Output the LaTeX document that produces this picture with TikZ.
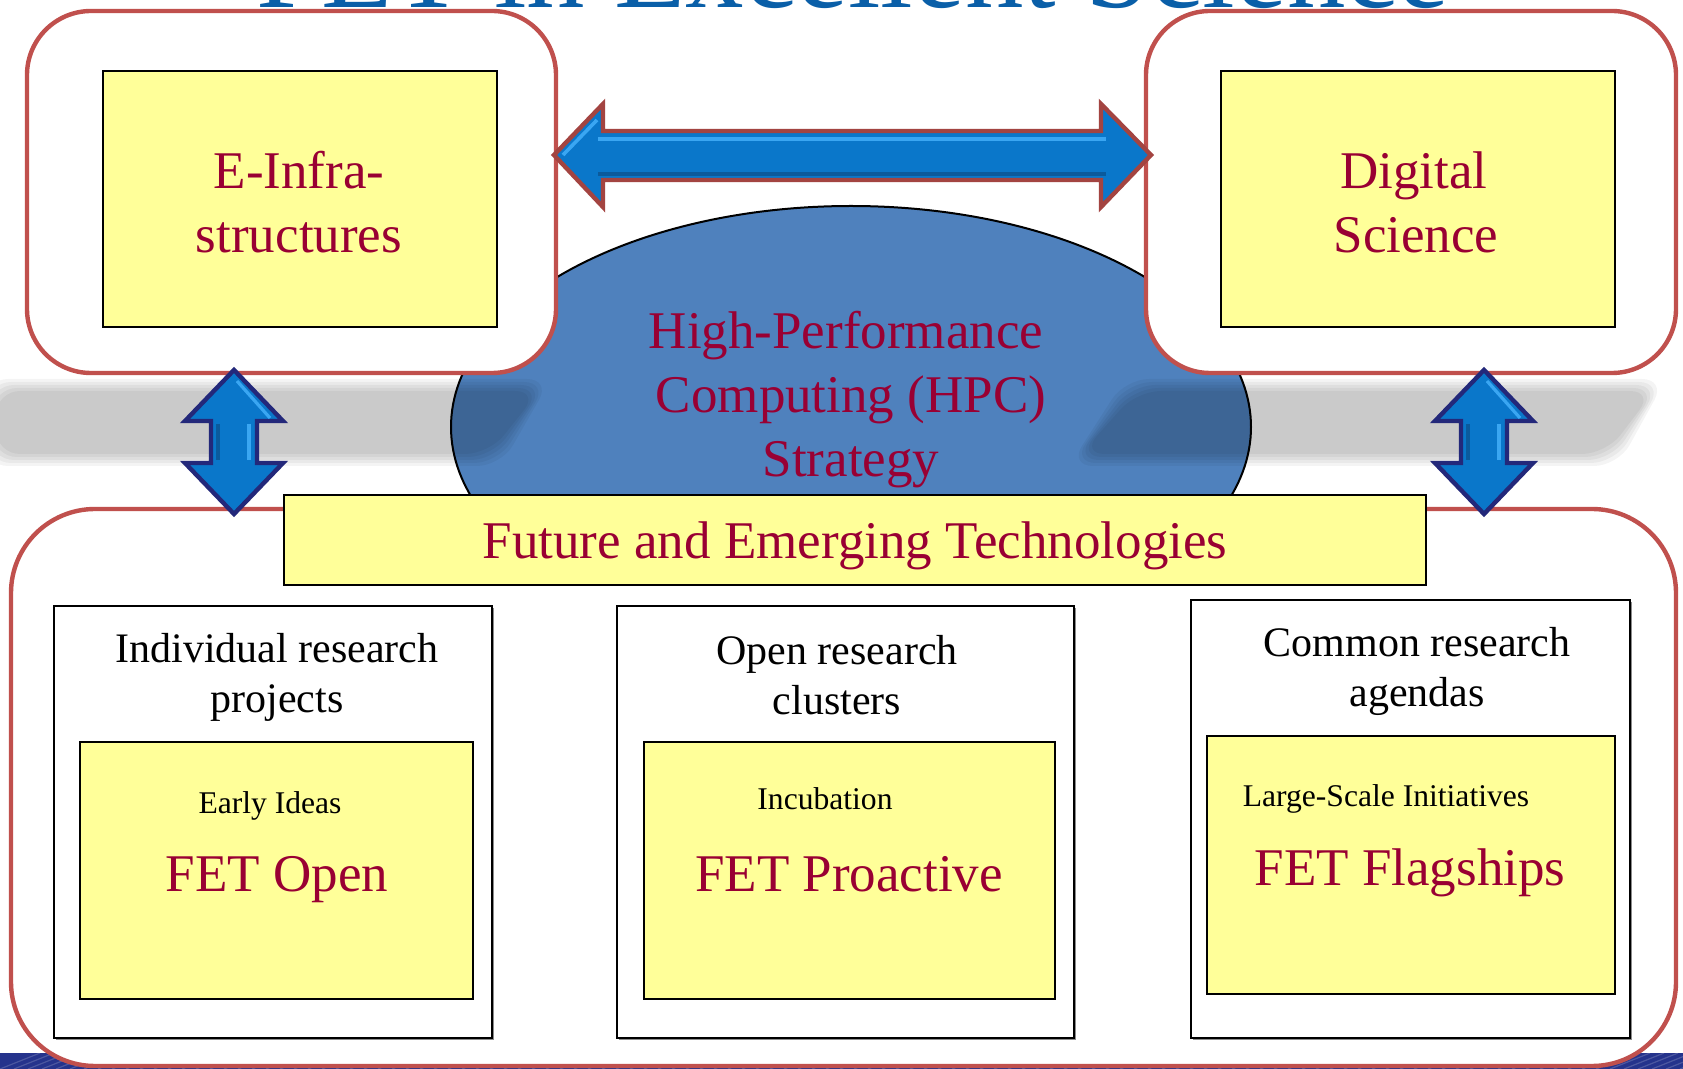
\documentclass[tikz,border=0pt]{standalone}
\usepackage{fontspec}
\setmainfont{Liberation Serif}
\usetikzlibrary{shapes.geometric,shadows}
\definecolor{boxred}{HTML}{C0504D}
\definecolor{fetyellow}{HTML}{FFFF99}
\definecolor{darkred}{HTML}{990033}
\definecolor{hpcblue}{HTML}{4F81BD}
\definecolor{arrowblue}{HTML}{0A77CA}
\definecolor{arrowlight}{HTML}{3AA6F2}
\definecolor{arrowdark}{HTML}{0B5A9C}
\definecolor{arrownavy}{HTML}{23287A}
\definecolor{titleblue}{HTML}{0A5FA8}
\definecolor{stripblue}{HTML}{25338C}
\newcommand{\fntBig}{\fontsize{13.25pt}{16pt}\selectfont}
\newcommand{\fntHead}{\fontsize{10.5pt}{12.5pt}\selectfont}
\newcommand{\fntSmall}{\fontsize{7.9pt}{9.5pt}\selectfont}
\newcommand{\fntTitle}{\fontsize{29.25pt}{35pt}\selectfont}
\tikzset{
  outerbox/.style={draw=boxred, line width=1.1pt, fill=white, rounded corners=16pt, inner sep=0pt},
  yelbox/.style={draw=black, line width=0.5pt, fill=fetyellow, inner sep=0pt},
  whitebox/.style={draw=black, line width=0.5pt, fill=white, inner sep=0pt,
    drop shadow={shadow xshift=0.4pt, shadow yshift=-0.5pt, opacity=0.45, fill=black}},
  redtxt/.style={font=\fntBig, text=darkred, inner sep=0pt, anchor=base},
  headtxt/.style={font=\fntHead, text=black, inner sep=0pt, anchor=base},
  smalltxt/.style={font=\fntSmall, text=black, inner sep=0pt, anchor=base},
  titletxt/.style={font=\fntTitle, text=titleblue, inner sep=0pt, anchor=base},
  vbevel/.style={draw=arrownavy, line width=1.1pt, fill=arrowblue, line join=miter},
  hbevel/.style={draw=boxred!85!black, line width=1.1pt, fill=arrowblue, line join=miter},
}
\begin{document}
\begin{tikzpicture}[x=0.25pt,y=-0.25pt]
\useasboundingbox (0,0) rectangle (1683,1069);
\clip (0,0) rectangle (1683,1069);
\fill[white] (0,0) rectangle (1683,1069);

% bottom textured strip
\fill[stripblue] (0,1053) rectangle (1683,1069);
\foreach \i in {0,14,...,1690} {
  \draw[white, opacity=0.18, line width=0.3pt] (\i,1069) -- ++(40,-16);
}

% title (cut by the top edge)
\node[titletxt] (title) at (853,8) {FET in Excellent Science};

% HPC ellipse
\node[draw=black, line width=0.5pt, fill=hpcblue, ellipse, minimum width=200pt, minimum height=110.5pt, inner sep=0pt] (hpc) at (851,427) {};

% soft shadows
\foreach \d in {-6,-3,0,3,6} {
  \fill[black, opacity=0.045, rounded corners=6pt]
    (-10+\d,385+\d) -- (545-\d,385+\d) -- (495-\d,460-\d) -- (-10+\d,460-\d) -- cycle;
  \fill[black, opacity=0.045, rounded corners=6pt]
    (1131+\d,385+\d) -- (1660-\d,385+\d) -- (1612-\d,460-\d) -- (1075+\d,460-\d) -- cycle;
}

% outer boxes
\node[outerbox, minimum width=132.25pt, minimum height=90.5pt] (einfra) at (291.5,192) {};
\node[outerbox, minimum width=132.5pt, minimum height=90.5pt] (digital) at (1411,192) {};
\node[outerbox, rounded corners=21pt, minimum width=416.25pt, minimum height=139.25pt] (fet) at (843.5,787.5) {};

% inner yellow boxes (top)
\node[yelbox, minimum width=98.5pt, minimum height=64pt] (einner) at (300,199) {};
\node[yelbox, minimum width=98.5pt, minimum height=64pt] (dinner) at (1418,199) {};

% FET bar
\node[yelbox, minimum width=285.5pt, minimum height=22.5pt] (fetbar) at (855,540) {};

% horizontal double arrow
\draw[hbevel] (554,155) -- (603,104) -- (603,131) -- (1101,131) -- (1101,104) -- (1151,155)
  -- (1101,207) -- (1101,180) -- (603,180) -- (603,207) -- cycle;
\draw[arrowlight, line width=1.2pt] (598,139) -- (1106,139);
\draw[arrowdark, line width=1pt] (598,174) -- (1106,174);
\draw[arrowlight, line width=0.9pt] (563,155) -- (597,120);

% vertical double arrows
\foreach \cx in {234,1484} {
  \draw[vbevel] (\cx,370) -- (\cx+49,421) -- (\cx+23,421) -- (\cx+23,463) -- (\cx+49,463)
    -- (\cx,514) -- (\cx-49,463) -- (\cx-23,463) -- (\cx-23,421) -- (\cx-49,421) -- cycle;
  \draw[arrowlight, line width=1.1pt] (\cx+15,424) -- (\cx+15,460);
  \draw[arrowlight, line width=0.8pt] (\cx+3,381) -- (\cx+36,418);
  \draw[arrowdark, line width=0.8pt] (\cx-16,424) -- (\cx-16,460);
}

% lower boxes
\node[whitebox, minimum width=109.5pt, minimum height=108pt] (ind) at (273,822) {};
\node[whitebox, minimum width=114.25pt, minimum height=108pt] (opn) at (845.5,822) {};
\node[whitebox, minimum width=109.75pt, minimum height=109.5pt] (com) at (1410.5,819) {};
\node[yelbox, minimum width=98.25pt, minimum height=64.25pt] (yopen) at (276.5,870.5) {};
\node[yelbox, minimum width=102.75pt, minimum height=64.25pt] (ypro) at (849.5,870.5) {};
\node[yelbox, minimum width=102pt, minimum height=64.5pt] (yflag) at (1411,865) {};

% texts
\node[redtxt] (t1a) at (299,189) {E-Infra-};
\node[redtxt] (t1b) at (299,253) {structures};
\node[redtxt] (t2a) at (1414,189) {Digital};
\node[redtxt] (t2b) at (1416,253) {Science};
\node[redtxt] (t3a) at (846,349) {High-Performance};
\node[redtxt] (t3b) at (851,413) {Computing (HPC)};
\node[redtxt] (t3c) at (851,477) {Strategy};
\node[redtxt] (t4) at (855,559) {Future and Emerging Technologies};

\node[headtxt] (h1a) at (277,663) {Individual research};
\node[headtxt] (h1b) at (277,713) {projects};
\node[headtxt] (h2a) at (837,665) {Open research};
\node[headtxt] (h2b) at (837,715) {clusters};
\node[headtxt] (h3a) at (1417,657) {Common research};
\node[headtxt] (h3b) at (1417,707) {agendas};

\node[smalltxt] (s1) at (270,814) {Early Ideas};
\node[smalltxt] (s2) at (825,810) {Incubation};
\node[smalltxt] (s3) at (1386,807) {Large-Scale Initiatives};

\node[redtxt] (b1) at (277,891) {FET Open};
\node[redtxt] (b2) at (849,891) {FET Proactive};
\node[redtxt] (b3) at (1410,886) {FET Flagships};
\end{tikzpicture}
\end{document}
